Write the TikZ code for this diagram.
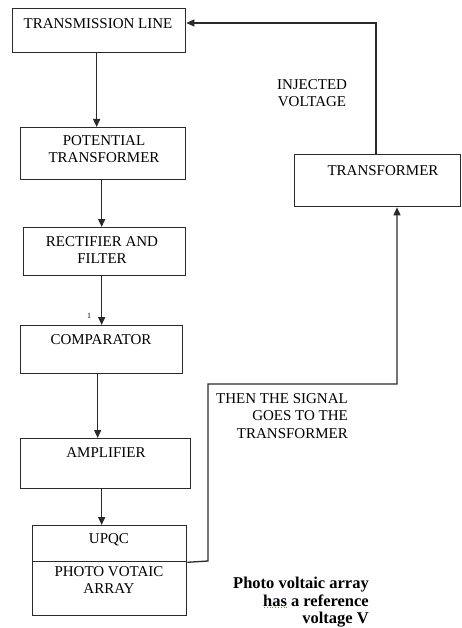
\documentclass[tikz,border=0pt]{standalone}
\usepackage{fontspec}
\setmainfont{Liberation Serif}
\usetikzlibrary{arrows.meta}
\definecolor{ln}{HTML}{2a2a2a}
\definecolor{sq}{HTML}{5aa05a}
\begin{document}
\begin{tikzpicture}[x=1pt,y=-1pt,
  blk/.style={draw=ln,line width=1.3pt,anchor=north west,inner sep=0pt},
  lbl/.style={anchor=north,inner sep=0pt,font=\fontsize{15}{17.5}\selectfont,align=center},
  arr/.style={draw=ln,line width=1.3pt,-{Triangle[length=8pt,width=7pt]}},
  wire/.style={draw=ln,line width=1.3pt}]
\useasboundingbox (0,0) rectangle (461,628);
% boxes
\node[blk,minimum width=173pt,minimum height=44pt] (tl) at (12,8) {};
\node[blk,minimum width=165pt,minimum height=52pt] (pt) at (20,127) {};
\node[blk,minimum width=162pt,minimum height=48pt] (rf) at (23,227) {};
\node[blk,minimum width=162pt,minimum height=48pt] (cmp) at (20,325) {};
\node[blk,minimum width=170pt,minimum height=50pt] (amp) at (20,438) {};
\node[blk,minimum width=154pt,minimum height=36pt] (upqc) at (32,525) {};
\node[blk,minimum width=154pt,minimum height=54pt] (pv) at (32,561) {};
\node[blk,minimum width=166pt,minimum height=52pt] (tr) at (294,154) {};
% box texts
\node[lbl] (ttl) at (98,18) {TRANSMISSION LINE};
\node[lbl] (tpt) at (104,135) {POTENTIAL\\TRANSFORMER};
\node[lbl] (trf) at (102,236) {RECTIFIER AND\\FILTER};
\node[lbl] (tcmp) at (101,334) {COMPARATOR};
\node[lbl] (tamp) at (106,447) {AMPLIFIER};
\node[lbl] (tupqc) at (109,533) {UPQC};
\node[lbl] (tpv) at (109,566) {PHOTO VOTAIC\\ARRAY};
\node[lbl] (ttr) at (383,165) {TRANSFORMER};
% free texts
\node[lbl] (inj) at (312,79) {INJECTED\\VOLTAGE};
\node[lbl,align=right,anchor=north east] (sig) at (348,393) {THEN THE SIGNAL\\GOES TO THE\\TRANSFORMER};
\node[lbl,align=right,anchor=north east,font=\fontsize{16.5}{17.5}\selectfont\bfseries] (pva) at (369,577) {Photo voltaic array\\has a reference\\voltage V};
\draw[sq,line width=0.8pt,dotted] (264,607) -- (287,607);
\node[anchor=north,inner sep=0pt,font=\fontsize{8}{9}\selectfont] (one) at (89,313) {1};
% connectors
\draw[arr] ([xshift=-2.5pt]tl.south) -- ([xshift=-2.5pt]tl.south |- pt.north);
\draw[arr] ([xshift=-1.5pt]pt.south) -- ([xshift=-1.5pt]pt.south |- rf.north);
\draw[arr] ([xshift=-3pt]rf.south) -- ([xshift=-3pt]rf.south |- cmp.north);
\draw[arr] ([xshift=-4pt]cmp.south) -- ([xshift=-4pt]cmp.south |- amp.north);
\draw[arr] ([xshift=-4pt]amp.south) -- ([xshift=-4pt]amp.south |- upqc.north);
\coordinate (c1) at (208,561);
\coordinate (c2) at (208,384);
\coordinate (c3) at (397,384);
\draw[arr] (upqc.south east) -- (c1) -- (c2) -- (c3) -- (c3 |- tr.south);
\coordinate (c4) at (376,23);
\draw[arr] (c4 |- tr.north) -- (c4) -- (c4 -| tl.east);
\end{tikzpicture}
\end{document}
